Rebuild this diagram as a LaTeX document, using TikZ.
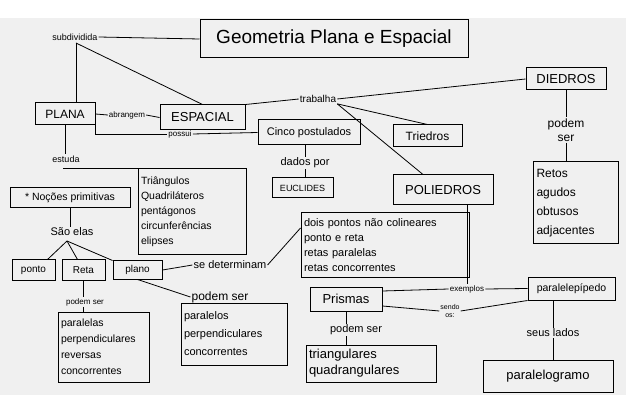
\documentclass[tikz,border=0pt]{standalone}
\usepackage{fontspec}
\setmainfont{Liberation Sans}
\usetikzlibrary{calc}
\newcommand{\fs}[2]{\fontsize{#1}{#2}\selectfont}
\begin{document}
\begin{tikzpicture}[x=1pt,y=-1pt,
  bx/.style={draw, line width=1pt, inner sep=3pt, align=left},
  mb/.style 2 args={minimum width=#1, minimum height=#2, align=center},
  lb/.style={inner sep=1pt},
  ln/.style={line width=0.8pt}]
\useasboundingbox (0,0) rectangle (626,395);
\fill[white] (0,0) rectangle (626,395);
\fill[black!6] (0,18) rectangle (626,395);

% boxes
\node[bx, mb={268pt}{38pt}, font=\fs{19}{22}] (title) at (334,39) {Geometria Plana e Espacial};
\node[bx, mb={60pt}{22pt}, font=\fs{12}{14}] (plana) at (65,114) {PLANA};
\node[bx, mb={85pt}{25pt}, font=\fs{13}{15}] (esp) at (202.5,117.5) {ESPACIAL};
\node[bx, mb={102pt}{25pt}, font=\fs{11}{13}] (cinco) at (309,132.5) {Cinco postulados};
\node[bx, mb={61pt}{20pt}, font=\fs{9}{11}] (eu) at (302.5,188) {EUCLIDES};
\node[bx, mb={80pt}{22pt}, font=\fs{13}{15}] (died) at (566,79) {DIEDROS};
\node[bx, text width=79pt, minimum height=82pt, font=\fs{12}{19}] (retos) at (576,203) {Retos\\agudos\\obtusos\\adjacentes};
\node[bx, mb={69pt}{22pt}, font=\fs{12}{14}] (tri) at (427.5,136) {Triedros};
\node[bx, mb={100pt}{30pt}, font=\fs{13}{15}] (poli) at (443,190) {POLIEDROS};
\node[bx, mb={120pt}{20pt}, font=\fs{10.5}{12}] (noc) at (70,198) {* Noções primitivas};
\node[bx, text width=102pt, minimum height=86pt, font=\fs{10.5}{15}] (trg) at (192,212) {Triângulos\\Quadriláteros\\pentágonos\\circunferências\\elipses};
\node[bx, mb={43pt}{20pt}, font=\fs{10}{12}] (ponto) at (33.5,270) {ponto};
\node[bx, mb={43pt}{20pt}, font=\fs{10}{12}] (reta) at (83.5,270) {Reta};
\node[bx, mb={49pt}{18pt}, font=\fs{10}{12}] (plano) at (137.5,270) {plano};
\node[bx, text width=162pt, minimum height=65pt, font=\fs{11}{15}] (dois) at (385,245) {dois pontos não colineares\\ponto e reta\\retas paralelas\\retas concorrentes};
\node[bx, text width=85pt, minimum height=70pt, font=\fs{10.5}{16}] (rbox) at (103.5,347) {paralelas\\perpendiculares\\reversas\\concorrentes};
\node[bx, text width=100pt, minimum height=62pt, font=\fs{11}{18}] (pbox) at (234,334) {paralelos\\perpendiculares\\concorrentes};
\node[bx, mb={72pt}{24pt}, font=\fs{13}{15}] (pri) at (346,299) {Prismas};
\node[bx, text width=124pt, minimum height=37pt, font=\fs{13}{16}] (tbox) at (371,363.5) {triangulares\\quadrangulares};
\node[bx, mb={87pt}{23pt}, font=\fs{10.5}{12}] (ppd) at (571.5,288.5) {paralelepípedo};
\node[bx, mb={130pt}{32pt}, font=\fs{13}{15}] (pgm) at (548,376) {paralelogramo};

% labels
\node[lb, font=\fs{9}{11}] (subd) at (75,37) {subdividida};
\node[lb, font=\fs{8}{10}] (abr) at (127,115) {abrangem};
\node[lb, font=\fs{8}{10}] (pos) at (180,134) {possui};
\node[lb, font=\fs{11}{13}] (dad) at (305,163) {dados por};
\node[lb, font=\fs{10}{12}] (trab) at (318,99) {trabalha};
\node[lb, font=\fs{12}{14}, align=center] (dps) at (566,130) {podem\\ser};
\node[lb, font=\fs{9}{11}] (est) at (66,159) {estuda};
\node[lb, font=\fs{11}{13}] (sao) at (72,232) {São elas};
\node[lb, font=\fs{11}{13}] (sed) at (230,265) {se determinam};
\node[lb, font=\fs{8}{10}] (rps) at (85,302) {podem ser};
\node[lb, font=\fs{12}{14}] (pps) at (220,297) {podem ser};
\node[lb, font=\fs{8}{10}] (ex) at (467,289) {exemplos};
\node[lb, font=\fs{7}{8}, align=center] (sen) at (450,311) {sendo\\os:};
\node[lb, font=\fs{11}{13}] (prps) at (356,330) {podem ser};
\node[lb, font=\fs{11}{13}] (seus) at (553,333) {seus lados};

\coordinate (sj) at (76,43);
\coordinate (ej) at (63,168);
\coordinate (sj2) at (67,241);

% connectors
\begin{scope}[ln]
\draw (subd.east) -- (title.west);
\draw (sj) -- (sj |- plana.north);
\draw (sj) -- (esp.north);
\draw (plana.east) -- (abr.west);
\draw (abr.east) -- (esp.west);
\draw (plana.south east) |- (pos.west);
\draw (pos.east) -- (cinco.west);
\draw (cinco.south -| dad.north) -- (dad.north);
\draw (dad.south) -- (dad.south |- eu.north);
\draw (esp.north east) -- (trab.west);
\draw (trab.east) -- (died.west);
\draw (trab.south east) -- (tri.north);
\draw (trab.south east) -- ([xshift=-20pt]poli.north);
\draw (died.south) -- (died.south |- dps.north);
\draw (dps.south -| died.south) -- (died.south |- retos.north);
\draw (plana.south) -- (plana.south |- est.north);
\draw (ej) -| ([xshift=-9pt]trg.north);
\draw (noc.south) -- (noc.south |- sao.north);
\draw (sj2) -- ([xshift=14pt]ponto.north);
\draw (sj2) -- ([xshift=-6pt]reta.north);
\draw (sj2) -- (plano.north west);
\draw (plano.east) -- (sed.west);
\draw (sed.east) -- ($(dois.west)+(0,-17)$);
\draw (reta.south) -- (reta.south |- rps.north);
\draw (reta.south |- rps.south) -- (reta.south |- rbox.north);
\draw (plano.south) -- (pps.west);
\draw ($(pri.east)+(0,-8)$) -- (ex.west);
\draw (ex.east) -- (ppd.west);
\draw (poli.south -| ex.north) -- (ex.north);
\draw ($(pri.east)+(0,7)$) -- (sen.west);
\draw (sen.east) -- (ppd.south west);
\draw (pri.south) -- (pri.south |- prps.north);
\draw (pri.south |- prps.south) -- (pri.south |- tbox.north);
\draw (ppd.south -| seus.north) -- (seus.north);
\draw (seus.south) -- (seus.south |- pgm.north);
\end{scope}
\end{tikzpicture}
\end{document}
